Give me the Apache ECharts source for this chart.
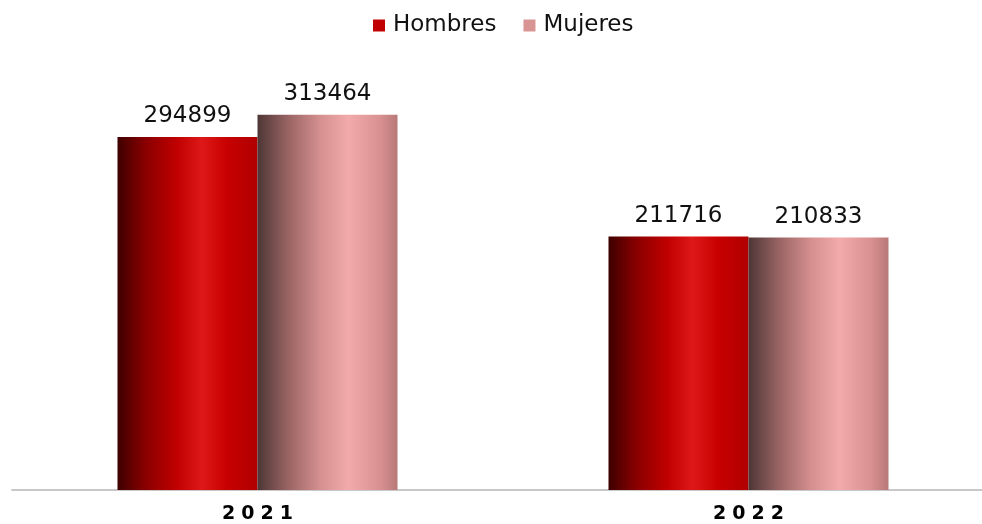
<!DOCTYPE html>
<html>
<head>
<meta charset="utf-8">
<script src="https://cdn.jsdelivr.net/npm/echarts@6/dist/echarts.min.js"></script>
<style>html,body{margin:0;padding:0;background:#fff;overflow:hidden}#c{width:994px;height:524px}</style>
</head>
<body>
<div id="c"></div>
<script>
const categories = ['2021', '2022'];
const hombres = [294899, 211716];
const mujeres = [313464, 210833];
const seriesNames = ['Hombres', 'Mujeres'];

function grad(stops) {
  return new echarts.graphic.LinearGradient(0, 0, 1, 0, stops.map(s => ({offset: s[0], color: s[1]})));
}
const redGrad = grad([[0,'#3e0000'],[0.2,'#8a0000'],[0.42,'#c00000'],[0.6,'#de1818'],[0.78,'#c80000'],[1,'#b00000']]);
const pinkGrad = grad([[0,'#4e3636'],[0.22,'#9a6464'],[0.45,'#d69090'],[0.65,'#f2aaaa'],[0.88,'#d89090'],[1,'#b87878']]);

const chart = echarts.init(document.getElementById('c'));
const labelStyle = {show: true, position: 'top', distance: 9, color: '#111', fontSize: 23, fontFamily: 'DejaVu Sans'};
chart.setOption({
  animation: false,
  legend: {
    top: 9, left: 368, itemWidth: 12, itemHeight: 12, itemGap: 27,
    icon: 'rect',
    textStyle: {fontSize: 23, fontFamily: 'DejaVu Sans', color: '#111', padding: [0, 0, 0, 3]},
    data: [{name: seriesNames[0], itemStyle: {color: '#c00000'}}, {name: seriesNames[1], itemStyle: {color: '#d99594'}}]
  },
  grid: {left: 12, right: 0, top: 41, bottom: 33, containLabel: false},
  xAxis: {
    type: 'category', data: categories,
    axisLine: {lineStyle: {color: '#c8c8c8', width: 2}},
    axisTick: {show: false},
    axisLabel: {
      margin: 15,
      formatter: v => v.split('').map(ch => '{d|' + ch + '}').join(''),
      rich: {d: {fontSize: 19, fontWeight: 'bold', fontFamily: 'DejaVu Sans', color: '#000', padding: [0, 3, 0, 3]}}
    }
  },
  yAxis: {type: 'value', min: 0, max: 375000, show: false, splitLine: {show: false}},
  series: [
    {name: seriesNames[0], type: 'bar', data: hombres, barWidth: 140, barGap: '0%', itemStyle: {color: redGrad}, label: labelStyle},
    {name: seriesNames[1], type: 'bar', data: mujeres, barWidth: 140, itemStyle: {color: pinkGrad}, label: labelStyle}
  ]
});
</script>
</body>
</html>
